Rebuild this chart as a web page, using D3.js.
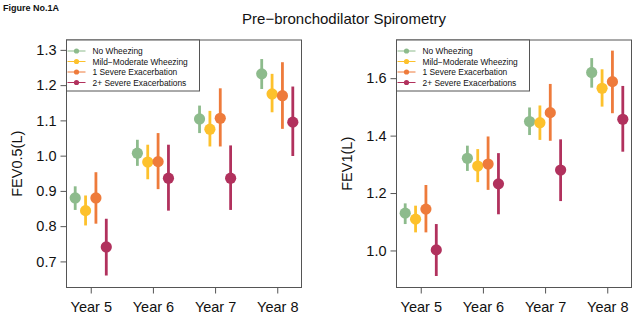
<!DOCTYPE html>
<html>
<head>
<meta charset="utf-8">
<script src="https://cdn.jsdelivr.net/npm/d3@7"></script>
<style>
  body { margin: 0; background: #fff; }
  text { font-family: "Liberation Sans", Arial, sans-serif; fill: #111; }
</style>
</head>
<body>
<div id="wrapper"></div>
<script>
// values
const years = ["Year 5", "Year 6", "Year 7", "Year 8"]
const groups = ["No Wheezing", "Mild\u2212Moderate Wheezing", "1 Severe Exacerbation", "2+ Severe Exacerbations"]
const groupColors = ["#8dbb8c", "#fdc12c", "#ee7b3b", "#b1315d"]
const groupOffsets = [-0.25, -0.0833, 0.0833, 0.25]

// FEV0.5 (L): rows = groups, columns = years
const fev05Est = [
  [0.880, 1.007, 1.104, 1.232],
  [0.844, 0.982, 1.075, 1.175],
  [0.880, 0.983, 1.106, 1.170],
  [0.741, 0.936, 0.936, 1.095],
]
const fev05Lo = [
  [0.846, 0.971, 1.064, 1.189],
  [0.802, 0.933, 1.026, 1.123],
  [0.807, 0.905, 1.026, 1.076],
  [0.660, 0.844, 0.846, 0.999],
]
const fev05Hi = [
  [0.913, 1.045, 1.142, 1.274],
  [0.887, 1.031, 1.127, 1.232],
  [0.953, 1.064, 1.191, 1.265],
  [0.821, 1.031, 1.029, 1.196],
]
const fev05Ticks = [0.7, 0.8, 0.9, 1.0, 1.1, 1.2, 1.3]

// FEV1 (L)
const fev1Est = [
  [1.130, 1.321, 1.449, 1.620],
  [1.109, 1.294, 1.445, 1.565],
  [1.144, 1.301, 1.480, 1.588],
  [1.002, 1.232, 1.280, 1.457],
]
const fev1Lo = [
  [1.092, 1.277, 1.402, 1.567],
  [1.063, 1.238, 1.385, 1.501],
  [1.063, 1.211, 1.382, 1.478],
  [0.911, 1.126, 1.172, 1.344],
]
const fev1Hi = [
  [1.164, 1.365, 1.498, 1.670],
  [1.156, 1.353, 1.505, 1.631],
  [1.228, 1.397, 1.580, 1.696],
  [1.092, 1.339, 1.387, 1.573],
]
const fev1Ticks = [1.0, 1.2, 1.4, 1.6]

const width = 636
const height = 317

const svg = d3.select("#wrapper")
  .append("svg")
    .attr("width", width)
    .attr("height", height)

svg.append("text")
    .attr("x", 3)
    .attr("y", 11)
    .style("font-size", "9px")
    .style("font-weight", "bold")
    .text("Figure No.1A")

svg.append("text")
    .attr("x", 344)
    .attr("y", 24)
    .attr("text-anchor", "middle")
    .style("font-size", "15px")
    .text("Pre\u2212bronchodilator Spirometry")

function drawPanel(opts) {
  const { left, right, top, bottom, yDomain, ticks, est, lo, hi, label, labelX } = opts

  const xScale = d3.scaleLinear()
    .domain([4.61, 8.39])
    .range([left, right])

  const yScale = d3.scaleLinear()
    .domain(yDomain)
    .range([bottom, top])

  const g = svg.append("g")

  // box
  g.append("rect")
      .attr("x", left)
      .attr("y", top)
      .attr("width", right - left)
      .attr("height", bottom - top)
      .attr("fill", "none")
      .attr("stroke", "#555")
      .attr("stroke-width", 1)

  // axes
  const yAxis = g.append("g")
      .attr("transform", `translate(${left},0)`)
      .call(d3.axisLeft(yScale).tickValues(ticks).tickFormat(d3.format(".1f")).tickSize(6).tickPadding(4))
  yAxis.select(".domain").remove()

  const xAxis = g.append("g")
      .attr("transform", `translate(0,${bottom})`)
      .call(d3.axisBottom(xScale).tickValues([5, 6, 7, 8]).tickFormat((d, i) => years[i]).tickSize(6).tickPadding(8))
  xAxis.select(".domain").remove()

  g.selectAll(".tick line").attr("stroke", "#555")
  g.selectAll(".tick text")
      .style("font-size", "14.5px")
      .style("font-family", "'Liberation Sans', Arial, sans-serif")
      .attr("fill", "#111")

  g.append("text")
      .attr("transform", `translate(${labelX},${(top + bottom) / 2}) rotate(-90)`)
      .attr("text-anchor", "middle")
      .style("font-size", "14.5px")
      .text(label)

  // marks
  groups.forEach((name, gi) => {
    const pts = years.map((y, yi) => ({
      x: 5 + yi + groupOffsets[gi],
      est: est[gi][yi],
      lo: lo[gi][yi],
      hi: hi[gi][yi],
    }))
    const grp = g.append("g")
    grp.selectAll("line")
        .data(pts)
      .enter().append("line")
        .attr("x1", d => xScale(d.x))
        .attr("x2", d => xScale(d.x))
        .attr("y1", d => yScale(d.lo))
        .attr("y2", d => yScale(d.hi))
        .attr("stroke", groupColors[gi])
        .attr("stroke-width", 2.8)
    grp.selectAll("circle")
        .data(pts)
      .enter().append("circle")
        .attr("cx", d => xScale(d.x))
        .attr("cy", d => yScale(d.est))
        .attr("r", 5.6)
        .attr("fill", groupColors[gi])
  })

  // legend
  const legend = g.append("g")
  legend.append("rect")
      .attr("x", left)
      .attr("y", top)
      .attr("width", 133)
      .attr("height", 51)
      .attr("fill", "#fff")
      .attr("stroke", "#555")
  groups.forEach((name, gi) => {
    const ly = top + 11 + gi * 10.5
    legend.append("line")
        .attr("x1", left + 1)
        .attr("x2", left + 19)
        .attr("y1", ly)
        .attr("y2", ly)
        .attr("stroke", groupColors[gi])
        .attr("stroke-width", 1)
    legend.append("circle")
        .attr("cx", left + 10)
        .attr("cy", ly)
        .attr("r", 2.6)
        .attr("fill", groupColors[gi])
    legend.append("text")
        .attr("x", left + 26)
        .attr("y", ly + 3.2)
        .style("font-size", "8.4px")
        .text(name)
  })
}

drawPanel({
  left: 66.5, right: 301.5, top: 40, bottom: 287.5,
  yDomain: [0.626, 1.328], ticks: fev05Ticks,
  est: fev05Est, lo: fev05Lo, hi: fev05Hi,
  label: "FEV0.5(L)", labelX: 22,
})

drawPanel({
  left: 396.5, right: 631.5, top: 40, bottom: 287.5,
  yDomain: [0.871, 1.733], ticks: fev1Ticks,
  est: fev1Est, lo: fev1Lo, hi: fev1Hi,
  label: "FEV1(L)", labelX: 352,
})
</script>
</body>
</html>
